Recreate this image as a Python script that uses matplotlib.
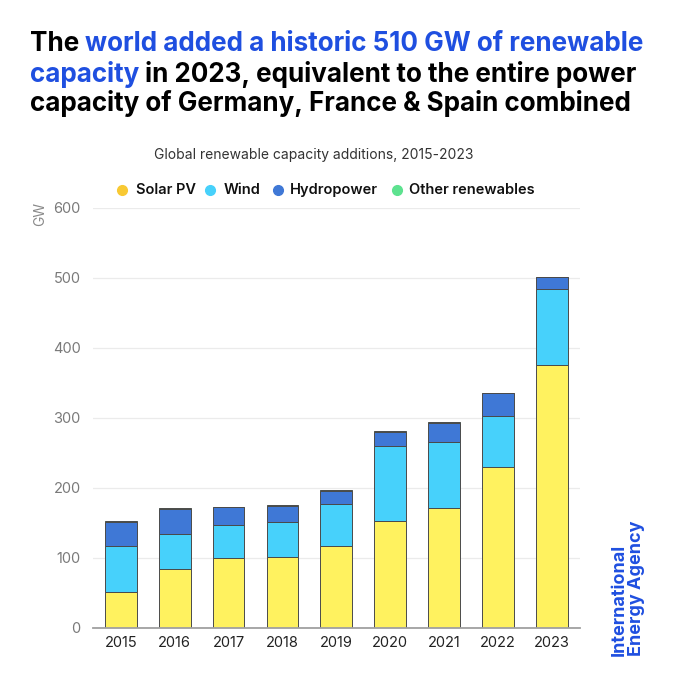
import matplotlib
matplotlib.use("Agg")
import matplotlib.pyplot as plt
from matplotlib.lines import Line2D
import numpy as np

years = ["2015", "2016", "2017", "2018", "2019", "2020", "2021", "2022", "2023"]
solar = [51, 83, 100, 101, 117, 152, 171, 229, 376]
wind = [66, 51, 47, 50, 59, 107, 94, 74, 108]
hydro = [34, 36, 25, 23, 19, 21, 28, 32, 17]
other = [1, 1, 1, 1.5, 1, 1, 1, 1, 1]
series_names = ["Solar PV", "Wind", "Hydropower", "Other renewables"]
yticks = [0, 100, 200, 300, 400, 500, 600]

W = H = 680
fig = plt.figure(figsize=(6.8, 6.8), dpi=100)
plt.rcParams['font.family'] = ['Inter', 'DejaVu Sans']

BLUE = "#1f4fe0"
fill_cols = ["#fff25f", "#47d1fb", "#3f78d6", "#5de28f"]
dot_cols = ["#f8c933", "#47d1fb", "#3f78d6", "#5de28f"]

def px(x, y):
    return x / W, 1 - y / H

ax = fig.add_axes([93 / W, 1 - 627.5 / H, (580 - 93) / W, (627.5 - 208) / H])
x = np.arange(len(years))
bottom = np.zeros(len(years))
for vals, col in zip([solar, wind, hydro, other], fill_cols):
    ax.bar(x, vals, width=0.59, bottom=bottom, color=col, edgecolor="#4a4a4a",
           linewidth=0.7, zorder=3)
    bottom += np.array(vals)

ax.set_xlim(-0.515, len(years) - 1 + 0.52)
ax.set_ylim(0, 600)
ax.set_yticks(yticks)
ax.set_yticklabels([str(t) for t in yticks])
ax.set_xticks(x)
ax.set_xticklabels(years)
ax.grid(axis="y", color="#ebebeb", linewidth=0.9, zorder=0)
for s in ["left", "right", "top"]:
    ax.spines[s].set_visible(False)
ax.spines["bottom"].set_color("#a0a0a0")
ax.spines["bottom"].set_linewidth(1.3)
ax.spines["bottom"].set_zorder(4)
ax.tick_params(axis="y", length=0, pad=9, labelsize=10.5, labelcolor="#7a7a7a")
ax.tick_params(axis="x", length=0, pad=6, labelsize=10.5, labelcolor="#222222")

fig.text(*px(40, 214), "GW", rotation=90, ha="center", va="center",
         fontsize=10, color="#8a8a8a")

# Title with mixed colours
fig.canvas.draw()
renderer = fig.canvas.get_renderer()
lines = [
    [("The ", "black"), ("world added a historic 510 GW of renewable", BLUE)],
    [("capacity", BLUE), (" in 2023, equivalent to the entire power", "black")],
    [("capacity of Germany, France & Spain combined", "black")],
]
test = fig.text(0, 0, "The world added a historic 510 GW of renewable",
                fontsize=20, fontweight="bold")
wtest = test.get_window_extent(renderer).width
test.remove()
tsize = 20 * 615 / wtest
baselines = [51, 82, 111]
for segs, yb in zip(lines, baselines):
    xcur = 30
    for txt, col in segs:
        t = fig.text(*px(xcur, yb), txt, fontsize=tsize, fontweight="bold",
                     color=col, ha="left", va="baseline")
        ext = t.get_window_extent(renderer)
        xcur += ext.width

fig.text(*px(314, 155), "Global renewable capacity additions, 2015-2023",
         ha="center", va="center", fontsize=10, color="#333333")

# Legend
dot_x = [121.7, 210, 277.7, 396.7]
txt_x = [136, 224, 290, 409]
for name, dc, dx, tx in zip(series_names, dot_cols, dot_x, txt_x):
    fig.add_artist(Line2D([dx / W], [1 - 190 / H], marker="o", markersize=7,
                          color=dc, linestyle="none", transform=fig.transFigure))
    fig.text(*px(tx, 190), name, ha="left", va="center", fontsize=10.5,
             fontweight="semibold", color="#111111")

fig.text(*px(628, 656), "International\nEnergy Agency", rotation=90,
         ha="center", va="bottom", multialignment="left", fontsize=13,
         fontweight="bold", color=BLUE, linespacing=1.0)

fig.savefig("out.png", dpi=100, facecolor="white")
